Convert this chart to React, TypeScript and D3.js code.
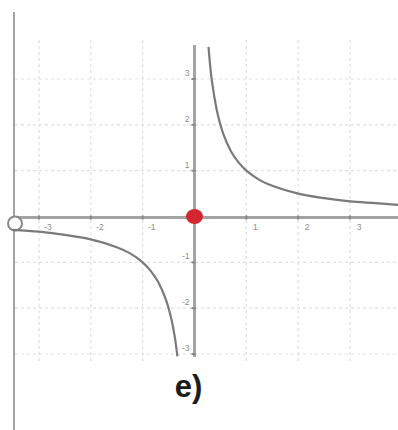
import React from "react";
import * as d3 from "d3";

const width = 398;
const height = 430;

const xTicks = [-3, -2, -1, 1, 2, 3];
const yTicks = [-3, -2, -1, 1, 2, 3];
const xTickLabels = ["-3", "-2", "-1", "1", "2", "3"];
const yTickLabels = ["-3", "-2", "-1", "1", "2", "3"];

const upperX = [0.27, 0.32, 0.38, 0.45, 0.55, 0.7, 0.85, 1, 1.25, 1.5, 2, 2.5, 3, 3.5, 3.95];
const upperY = [3.7, 3.1, 2.63, 2.22, 1.82, 1.43, 1.18, 1, 0.8, 0.67, 0.5, 0.4, 0.33, 0.29, 0.25];
const lowerX = [-3.5, -3, -2.5, -2, -1.5, -1.25, -1, -0.85, -0.7, -0.55, -0.45, -0.38, -0.33];
const lowerY = [-0.29, -0.33, -0.4, -0.5, -0.67, -0.8, -1, -1.18, -1.43, -1.82, -2.22, -2.63, -3.05];

const caption = "e)";

export default function App() {
  const x = d3.scaleLinear().domain([-3, 3]).range([39, 350]);
  const y = d3.scaleLinear().domain([-3, 3]).range([354, 79]);

  const line = d3
    .line<[number, number]>()
    .x((d) => x(d[0]))
    .y((d) => y(d[1]))
    .curve(d3.curveCatmullRom);

  const upper = line(upperX.map((v, i) => [v, upperY[i]] as [number, number]));
  const lower = line(lowerX.map((v, i) => [v, lowerY[i]] as [number, number]));

  const x0 = x(0);
  const y0 = y(0);
  const gridColor = "#e0e0e0";
  const axisColor = "#a3a3a3";

  return (
    <svg
      width={width}
      height={height}
      style={{ position: "absolute", left: 0, top: 0, background: "#fff" }}
    >
      {/* grid */}
      <g>
        {xTicks.map((t) => (
          <line
            key={`gx${t}`}
            x1={x(t)}
            x2={x(t)}
            y1={40}
            y2={362}
            stroke={gridColor}
            strokeWidth={1.2}
            strokeDasharray="3 3"
          />
        ))}
        {yTicks.map((t) => (
          <line
            key={`gy${t}`}
            x1={15}
            x2={width}
            y1={y(t)}
            y2={y(t)}
            stroke={gridColor}
            strokeWidth={1.2}
            strokeDasharray="3 3"
          />
        ))}
      </g>

      {/* left frame line */}
      <line x1={14} x2={14} y1={12} y2={height} stroke={axisColor} strokeWidth={2} />

      {/* axes */}
      <line x1={14} x2={width} y1={y0 + 1} y2={y0 + 1} stroke={axisColor} strokeWidth={3} />
      <line x1={x0} x2={x0} y1={45} y2={357} stroke={axisColor} strokeWidth={3} />
      <circle cx={15} cy={y0 + 7} r={7} fill="#fff" stroke="#8a8a8a" strokeWidth={2} />

      {/* ticks */}
      {xTicks.map((t) => (
        <line key={`tx${t}`} x1={x(t)} x2={x(t)} y1={y0 - 1} y2={y0 + 3} stroke="#888" strokeWidth={2} />
      ))}
      {yTicks.map((t) => (
        <line key={`ty${t}`} x1={x0 - 3} x2={x0 + 1} y1={y(t)} y2={y(t)} stroke="#888" strokeWidth={2} />
      ))}

      {/* tick labels */}
      <g fontFamily="Arial, Liberation Sans, sans-serif" fontSize={8.5} fill="#8c8c8c">
        {xTicks.map((t, i) => (
          <text key={`lx${t}`} x={x(t) + 9} y={y0 + 13} textAnchor="middle">
            {xTickLabels[i]}
          </text>
        ))}
        {yTicks.map((t, i) => (
          <text key={`ly${t}`} x={x0 - 5} y={y(t) - 3} textAnchor="end">
            {yTickLabels[i]}
          </text>
        ))}
      </g>

      {/* curve */}
      <path d={upper ?? ""} fill="none" stroke="#7a7a7a" strokeWidth={2.2} />
      <path d={lower ?? ""} fill="none" stroke="#7a7a7a" strokeWidth={2.2} />

      {/* origin point */}
      <ellipse cx={x0} cy={y0} rx={8.5} ry={7.5} fill="#d4262f" />

      {/* caption */}
      <text
        x={x0 - 6}
        y={397}
        textAnchor="middle"
        fontFamily="Arial, Liberation Sans, sans-serif"
        fontWeight="bold"
        fontSize={31}
        fill="#1c1c1c"
      >
        {caption}
      </text>
    </svg>
  );
}
